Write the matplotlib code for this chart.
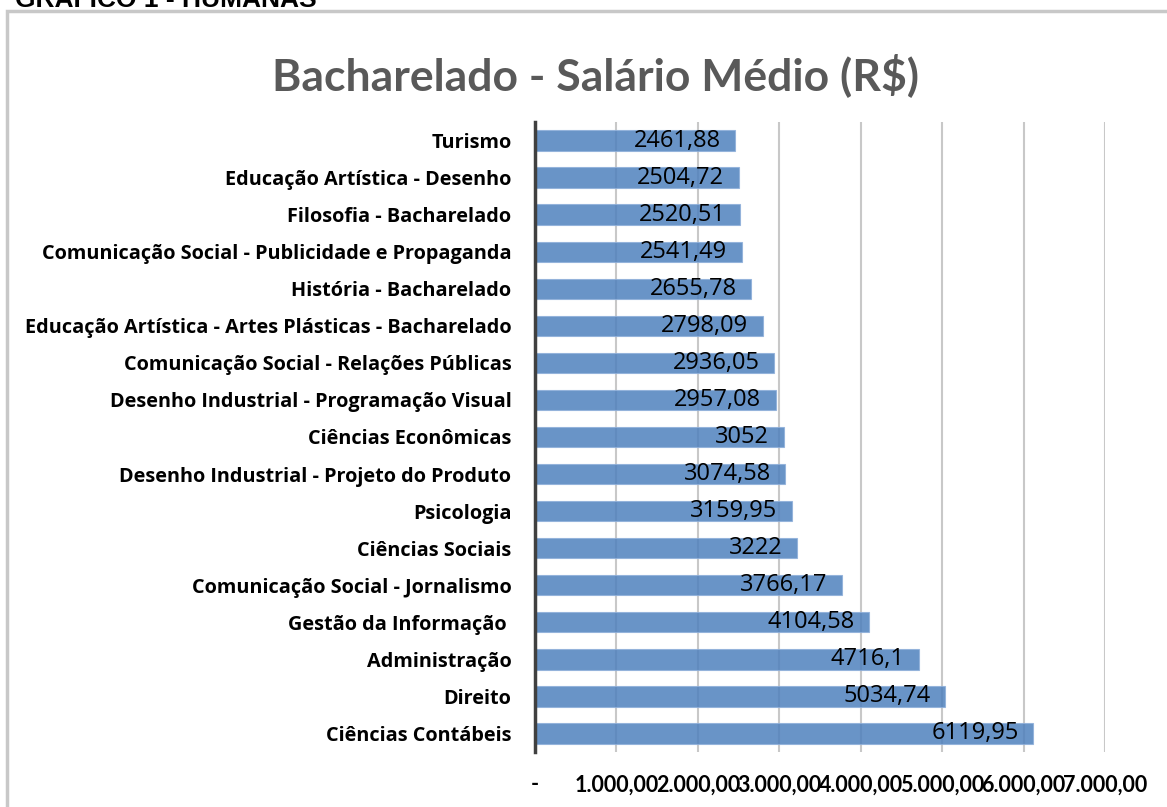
import numpy as np
import matplotlib.pyplot as plt
from matplotlib.patches import Rectangle

# dados do grafico
cursos = ["Turismo", "Educação Artística - Desenho", "Filosofia - Bacharelado",
          "Comunicação Social - Publicidade e Propaganda", "História - Bacharelado",
          "Educação Artística - Artes Plásticas - Bacharelado",
          "Comunicação Social - Relações Públicas",
          "Desenho Industrial - Programação Visual", "Ciências Econômicas",
          "Desenho Industrial - Projeto do Produto", "Psicologia", "Ciências Sociais",
          "Comunicação Social - Jornalismo", "Gestão da Informação ",
          "Administração", "Direito", "Ciências Contábeis"]
salarios = [2461.88, 2504.72, 2520.51, 2541.49, 2655.78, 2798.09, 2936.05, 2957.08,
            3052, 3074.58, 3159.95, 3222, 3766.17, 4104.58, 4716.1, 5034.74, 6119.95]
rotulos = ["2461,88", "2504,72", "2520,51", "2541,49", "2655,78", "2798,09", "2936,05",
           "2957,08", "3052", "3074,58", "3159,95", "3222", "3766,17", "4104,58",
           "4716,1", "5034,74", "6119,95"]
xticks = [0, 1000, 2000, 3000, 4000, 5000, 6000, 7000]
xticklabels = ["-", "1.000,00", "2.000,00", "3.000,00", "4.000,00", "5.000,00",
               "6.000,00", "7.000,00"]

plt.rcParams['font.family'] = ['Lato', 'DejaVu Sans']

W, H = 1167, 807
fig = plt.figure(figsize=(W / 100, H / 100), dpi=100)

# moldura do grafico (cortada a direita e embaixo)
fig.patches.append(Rectangle((7 / W, -0.1), 1.2, 1 - 11 / H + 0.1, transform=fig.transFigure,
                             fill=False, edgecolor='#c8c8c8', linewidth=2.5))

# titulo da pagina, cortado no topo
fig.text(15 / W, 1 - 7 / H, "GRÁFICO 1 - HUMANAS", fontsize=19, fontweight='bold',
         family='Liberation Sans', ha='left', va='baseline', color='black')

fig.text(595 / W, 1 - 75 / H, "Bacharelado - Salário Médio (R$)", fontsize=32,
         fontweight='bold', color='#595959', ha='center', va='center')

ax = fig.add_axes([535 / W, 1 - 752 / H, (1105 - 535) / W, (752 - 122) / H])
y = np.arange(len(cursos))
ax.barh(y, salarios, height=0.55, color='#4F81BD', alpha=0.85, zorder=3,
        edgecolor='#8fb0da', linewidth=0.8)
for yi, v, r in zip(y, salarios, rotulos):
    ax.text(v - 180, yi, r, ha='right', va='center', fontsize=17, color='black',
            zorder=4, family='Open Sans')

ax.set_xlim(0, 7000)
ax.set_ylim(16.5, -0.5)
ax.set_yticks(y)
ax.set_yticklabels(cursos, fontsize=14.3, fontweight='bold', family='Open Sans')
ax.set_xticks(xticks)
ax.set_xticklabels(xticklabels, fontsize=15.5, fontweight='bold')
ax.tick_params(axis='both', length=0)
ax.tick_params(axis='y', pad=17)
ax.tick_params(axis='x', pad=16)
ax.grid(axis='x', color='#c8c8c8', linewidth=1.5, zorder=0)
for s in ['top', 'right', 'bottom']:
    ax.spines[s].set_visible(False)
ax.spines['left'].set_linewidth(2.5)
ax.spines['left'].set_color('#404040')
ax.spines['left'].set_zorder(5)

fig.savefig("out.png", dpi=100)
